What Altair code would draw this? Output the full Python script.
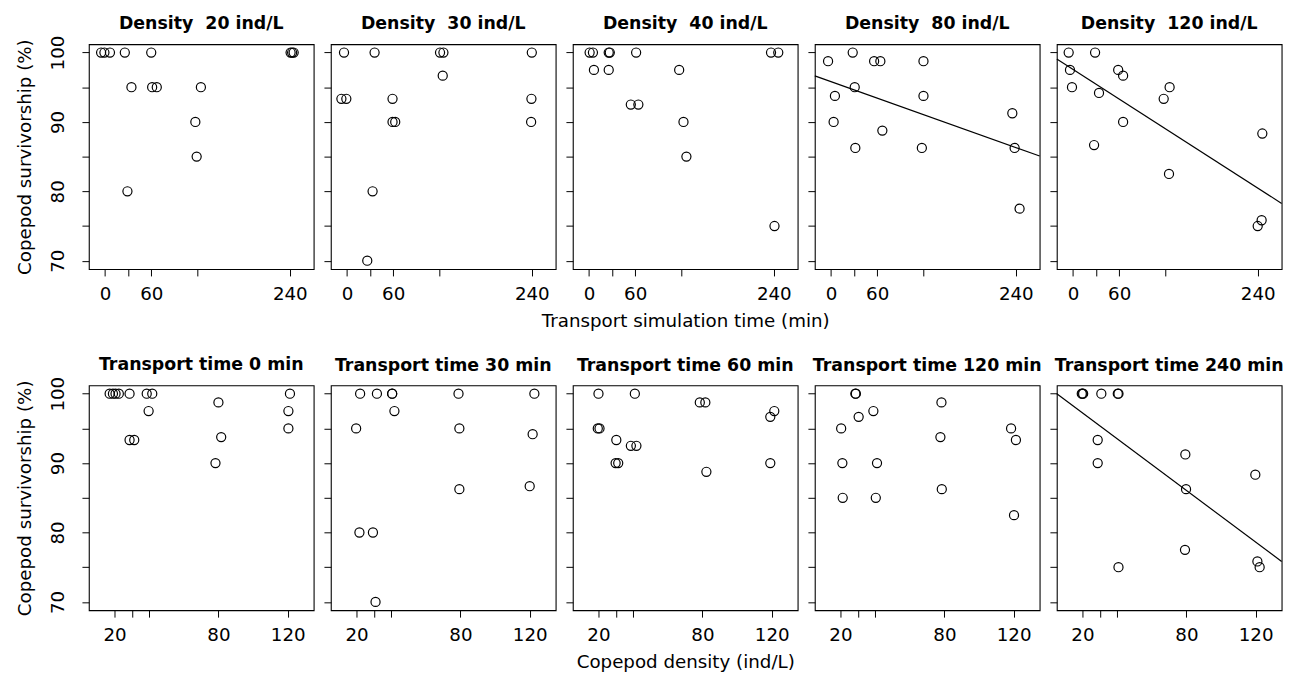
import json
import altair as alt
import pandas as pd

FONT = "DejaVu Sans"

# ---------------- axes ----------------
Y_DOMAIN = [68.8, 101.2]
Y_TICKS = [70, 75, 80, 85, 90, 95, 100]
Y_LABELS = [70, 80, 90, 100]

TIME_DOMAIN = [-21, 271]
TIME_TICKS = [0, 30, 60, 120, 240]
TIME_LABELS = [0, 60, 240]

DENS_DOMAIN = [5.2, 135]
DENS_TICKS = [20, 30, 40, 80, 120]
DENS_LABELS = [20, 80, 120]

# ---------------- top row: survivorship vs transport time, by density ----------------
time_level = [0, 0, 0, 30, 30, 30, 60, 60, 60, 120, 120, 120, 240, 240, 240]

d20_time = [-5.1, -0.8, 6.4, 25.7, 34.3, 29.1, 60, 61.2, 67.2, 124.5, 117.3, 119, 241, 243, 245]
d20_surv = [100, 100, 100, 100, 95, 80, 100, 95, 95, 95, 90, 85, 100, 100, 100]

d30_time = [-3.9, -7.3, -0.9, 35.8, 33.2, 26.3, 59.1, 59.1, 62.6, 120.8, 125.2, 124.3, 240, 239.5, 239.1]
d30_surv = [100, 93.33, 93.33, 100, 80, 70, 93.33, 90, 90, 100, 100, 96.67, 100, 93.33, 90]

d40_time = [0.8, 5.1, 6.4, 25.6, 27.0, 25.6, 61.2, 54.3, 64.1, 117.1, 122.7, 126.5, 236.4, 245.8, 240.9]
d40_surv = [100, 100, 97.5, 100, 100, 97.5, 100, 92.5, 92.5, 97.5, 90, 85, 100, 100, 75]

d80_time = [-3.8, 5.1, 3.4, 28.2, 30.8, 31.6, 56, 64.1, 66.7, 120.1, 120.1, 118, 235.5, 238.5, 244.9]
d80_surv = [98.75, 93.75, 90, 100, 95, 86.25, 98.75, 98.75, 88.75, 98.75, 93.75, 86.25, 91.25, 86.25, 77.5]

d120_time = [-5.6, -3.9, -1.3, 28.7, 33.8, 27.4, 58.7, 65.1, 65.1, 125.5, 117.8, 124.7, 245.9, 239.9, 245]
d120_surv = [100, 97.5, 95, 100, 94.17, 86.67, 97.5, 96.67, 90, 95, 93.33, 82.5, 88.33, 75, 75.83]

# ---------------- bottom row: survivorship vs density, by transport time ----------------
dens_level = [20, 20, 20, 30, 30, 30, 40, 40, 40, 80, 80, 80, 120, 120, 120]
dens_level_t0 = [20, 20, 20, 20, 30, 30, 30, 40, 40, 40, 80, 80, 80, 120, 120, 120]

t0_dens = [17.2, 19.1, 20.6, 22.5, 28.7, 28.7, 31.4, 38.6, 41.8, 39.7, 80.0, 81.6, 78.3, 121.3, 120.4, 120.4]
t0_surv = [100, 100, 100, 100, 100, 93.33, 93.33, 100, 100, 97.5, 98.75, 93.75, 90, 100, 97.5, 95]

t30_dens = [22.1, 19.8, 21.7, 31.8, 29.5, 31.0, 40.6, 40.6, 41.9, 78.9, 79.4, 79.4, 122.7, 121.7, 120.0]
t30_surv = [100, 95, 80, 100, 80, 70, 100, 100, 97.5, 100, 95, 86.25, 100, 94.17, 86.67]

t60_dens = [20.0, 19.6, 20.6, 30.3, 29.9, 31.4, 41.0, 38.7, 41.9, 78.5, 81.7, 82.3, 121.5, 119.2, 119.2]
t60_surv = [100, 95, 95, 93.33, 90, 90, 100, 92.5, 92.5, 98.75, 98.75, 88.75, 97.5, 96.67, 90]

t120_dens = [20.4, 21.1, 21.3, 28.6, 28.9, 30.5, 39.0, 41.1, 40.4, 78.3, 77.7, 78.5, 118.5, 121.3, 120.2]
t120_surv = [95, 90, 85, 100, 100, 96.67, 97.5, 90, 85, 98.75, 93.75, 86.25, 95, 93.33, 82.5]

t240_dens = [19.6, 20.0, 20.4, 30.9, 28.8, 28.8, 40.4, 40.8, 40.8, 79.4, 79.8, 79.2, 119.8, 121.0, 122.3]
t240_surv = [100, 100, 100, 100, 93.33, 90, 100, 100, 75, 91.25, 86.25, 77.5, 88.33, 75.83, 75]

Y_TITLE = "Copepod survivorship (%)"
TOP_X_TITLE = "Transport simulation time (min)"
BOTTOM_X_TITLE = "Copepod density (ind/L)"

W, H = 228, 228
TITLE_OFFSET = 11.5


def label_expr(vals):
    return "indexof(%s, datum.value) >= 0 ? datum.label : ''" % json.dumps(vals)


def panel(title, xs, ys, levels, xdomain, xticks, xlabels, first, xtitle=None, fit=False):
    df = pd.DataFrame({"x": xs, "surv": ys, "level": levels})
    xaxis = alt.Axis(values=xticks, labelExpr=label_expr(xlabels), title=xtitle,
                     labelOverlap=False, labelFlush=False)
    yaxis = alt.Axis(values=Y_TICKS, labelExpr=label_expr(Y_LABELS),
                     labels=first, title=(Y_TITLE if first else None), labelOverlap=False)
    xscale = alt.Scale(domain=xdomain, nice=False, zero=False)
    yscale = alt.Scale(domain=Y_DOMAIN, nice=False, zero=False)
    base = alt.Chart(df)
    pts = base.mark_point(shape="circle", filled=False, size=85, color="black",
                          strokeWidth=1.2, opacity=1).encode(
        x=alt.X("x:Q", scale=xscale, axis=xaxis),
        y=alt.Y("surv:Q", scale=yscale, axis=yaxis),
    )
    layers = [pts]
    if fit:
        line = base.transform_regression("level", "surv", extent=xdomain).mark_line(
            color="black", strokeWidth=1.2).encode(
            x=alt.X("level:Q", scale=xscale, axis=xaxis),
            y=alt.Y("surv:Q", scale=yscale, axis=yaxis),
        )
        layers.append(line)
    # the first panel's rotated "100" label pokes above the plot; compensate
    off = TITLE_OFFSET - 9.2 if first else TITLE_OFFSET
    return alt.layer(*layers).properties(
        width=W, height=H, title=alt.TitleParams(text=title, offset=off))


NB = "\u00a0"
top = alt.hconcat(
    panel("Density" + NB + " 20 ind/L", d20_time, d20_surv, time_level, TIME_DOMAIN, TIME_TICKS, TIME_LABELS, True),
    panel("Density" + NB + " 30 ind/L", d30_time, d30_surv, time_level, TIME_DOMAIN, TIME_TICKS, TIME_LABELS, False),
    panel("Density" + NB + " 40 ind/L", d40_time, d40_surv, time_level, TIME_DOMAIN, TIME_TICKS, TIME_LABELS, False,
          xtitle=TOP_X_TITLE),
    panel("Density" + NB + " 80 ind/L", d80_time, d80_surv, time_level, TIME_DOMAIN, TIME_TICKS, TIME_LABELS, False,
          fit=True),
    panel("Density" + NB + " 120 ind/L", d120_time, d120_surv, time_level, TIME_DOMAIN, TIME_TICKS, TIME_LABELS, False,
          fit=True),
    spacing=17.4, bounds="flush",
)

bottom = alt.hconcat(
    panel("Transport time 0 min", t0_dens, t0_surv, dens_level_t0, DENS_DOMAIN, DENS_TICKS, DENS_LABELS, True),
    panel("Transport time 30 min", t30_dens, t30_surv, dens_level, DENS_DOMAIN, DENS_TICKS, DENS_LABELS, False),
    panel("Transport time 60 min", t60_dens, t60_surv, dens_level, DENS_DOMAIN, DENS_TICKS, DENS_LABELS, False,
          xtitle=BOTTOM_X_TITLE),
    panel("Transport time 120 min", t120_dens, t120_surv, dens_level, DENS_DOMAIN, DENS_TICKS, DENS_LABELS, False),
    panel("Transport time 240 min", t240_dens, t240_surv, dens_level, DENS_DOMAIN, DENS_TICKS, DENS_LABELS, False,
          fit=True),
    spacing=17.4, bounds="flush",
)

chart = alt.vconcat(top, bottom, spacing=25).properties(
    padding={"left": 6, "top": 2, "right": 0, "bottom": 0},
    background="white",
).configure_view(
    stroke="black", strokeWidth=1.1
).configure_axis(
    labelFont=FONT, labelFontSize=18.5, labelColor="black",
    titleFont=FONT, titleFontSize=18.5, titleFontWeight="normal", titleColor="black",
    tickColor="black", tickSize=7, tickWidth=1, domain=False, grid=False,
).configure_axisX(
    labelPadding=9, titlePadding=9,
).configure_axisY(
    labelAngle=270, labelAlign="center", labelBaseline="bottom", labelPadding=15, titlePadding=14.5,
).configure_title(
    font=FONT, fontSize=17.6, fontWeight="bold", anchor="middle",
    baseline="alphabetic", color="black", frame="group",
)

chart.save("out.html", embed_options={"renderer": "svg", "actions": False})
